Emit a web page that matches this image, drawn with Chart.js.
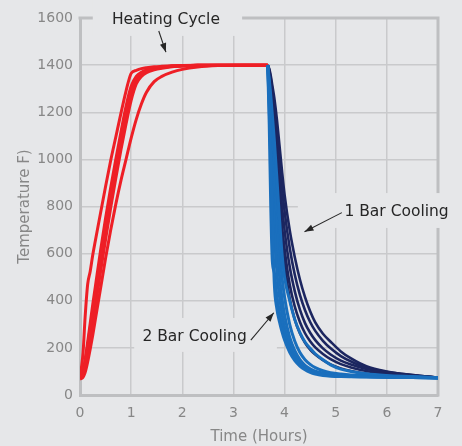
<!DOCTYPE html>
<html><head><meta charset="utf-8">
<script src="https://cdn.jsdelivr.net/npm/chart.js@4/dist/chart.umd.min.js"></script>
<style>html,body{margin:0;padding:0;background:#e6e7e9;}#wrap{width:462px;height:446px;}</style>
</head><body><div id="wrap"><canvas id="c" width="462" height="446"></canvas></div>
<script>
// ---- data (hours, °F) ----
const xTickValues = [0, 1, 2, 3, 4, 5, 6, 7];
const yTickValues = [0, 200, 400, 600, 800, 1000, 1200, 1400, 1600];

const heatTime = [0, 0.03, 0.06, 0.1, 0.15, 0.2, 0.25, 0.3, 0.4, 0.5, 0.6, 0.7, 0.8, 0.9, 1.0, 1.1, 1.2, 1.3, 1.45, 1.6, 1.8, 2.0, 2.3, 2.7, 3.2, 3.67];
const heat1 = [75, 120, 180, 330, 470, 525, 595, 655, 770, 885, 995, 1095, 1195, 1290, 1365, 1378, 1385, 1389, 1393, 1395, 1397, 1398, 1399, 1400, 1400, 1400];
const heat2 = [72, 78, 95, 140, 210, 285, 360, 435, 580, 720, 850, 970, 1085, 1195, 1290, 1345, 1365, 1376, 1385, 1390, 1395, 1397, 1399, 1400, 1400, 1400];
const heat3 = [70, 74, 85, 115, 170, 235, 305, 375, 520, 660, 795, 920, 1040, 1150, 1250, 1320, 1352, 1368, 1380, 1387, 1393, 1396, 1398, 1400, 1400, 1400];
const heat4 = [80, 85, 100, 150, 225, 305, 385, 460, 610, 750, 880, 1000, 1115, 1225, 1310, 1352, 1370, 1380, 1388, 1392, 1396, 1398, 1399, 1400, 1400, 1400];
const heat5 = [68, 70, 76, 95, 140, 195, 255, 320, 450, 580, 700, 810, 910, 1000, 1090, 1170, 1235, 1285, 1330, 1352, 1370, 1382, 1392, 1398, 1400, 1400];
const heat6 = [74, 80, 92, 130, 195, 265, 340, 415, 560, 700, 835, 960, 1075, 1185, 1280, 1340, 1362, 1374, 1384, 1390, 1395, 1397, 1399, 1400, 1400, 1400];

const coolTime = [3.67, 3.7, 3.73, 3.76, 3.8, 3.85, 3.9, 3.95, 4.0, 4.1, 4.2, 4.3, 4.4, 4.5, 4.6, 4.75, 4.9, 5.1, 5.3, 5.6, 6.0, 6.5, 7.0];
const twoBar1 = [1400, 1220, 1000, 760, 470, 365, 311, 268, 233, 181, 146, 123, 107, 96, 89, 83, 80, 78, 77, 76, 75, 74, 72];
const twoBar2 = [1400, 1150, 800, 570, 520, 420, 350, 295, 255, 195, 155, 128, 111, 100, 93, 87, 83, 80, 78, 77, 75, 74, 72];
const twoBar3 = [1400, 1260, 1080, 900, 700, 520, 420, 345, 290, 215, 168, 138, 118, 105, 97, 90, 86, 82, 80, 78, 76, 74, 72];
const twoBar4 = [1400, 1300, 1170, 1030, 850, 650, 510, 410, 340, 245, 188, 150, 126, 111, 101, 93, 88, 84, 81, 79, 77, 75, 73];
const twoBar5 = [1400, 1340, 1270, 1190, 1080, 920, 750, 600, 500, 400, 320, 265, 225, 198, 175, 150, 128, 110, 100, 90, 83, 78, 73];
const twoBar6 = [1400, 1320, 1220, 1110, 960, 780, 620, 500, 415, 300, 228, 180, 150, 130, 116, 103, 95, 89, 85, 82, 78, 76, 73];
const oneBar1 = [1400, 1360, 1300, 1230, 1130, 980, 820, 650, 560, 410, 320, 262, 222, 193, 172, 148, 130, 113, 102, 91, 83, 78, 73];
const oneBar2 = [1400, 1368, 1315, 1250, 1160, 1020, 870, 720, 620, 470, 375, 310, 262, 228, 202, 174, 152, 131, 117, 102, 90, 81, 74];
const oneBar3 = [1400, 1373, 1330, 1270, 1190, 1070, 930, 800, 700, 545, 440, 362, 305, 264, 233, 198, 172, 146, 129, 110, 95, 83, 74];
const oneBar4 = [1400, 1380, 1343, 1292, 1225, 1120, 1000, 880, 780, 625, 510, 425, 360, 310, 272, 230, 198, 165, 142, 116, 98, 85, 74];
const oneBar5 = [1400, 1385, 1355, 1315, 1260, 1170, 1060, 950, 850, 700, 585, 490, 415, 355, 308, 260, 226, 185, 155, 122, 100, 85, 74];

const heatSeries = [heat1, heat2, heat3, heat4, heat5, heat6];
const twoBarSeries = [twoBar1, twoBar2, twoBar3, twoBar4, twoBar5, twoBar6];
const oneBarSeries = [oneBar1, oneBar2, oneBar3, oneBar4, oneBar5];

// ---- styles ----
const BG = '#e6e7e9', GRID = '#c9cacc', FRAME = '#bebfc1', TICK = '#878787', INK = '#262626';
const RED = '#ee1f26', NAVY = '#1c2660', BLUE = '#1a6fbd';
const FONT = 'DejaVu Sans, Verdana, sans-serif';

function mk(times, vals, color, w) {
  return { data: times.map((t, i) => ({ x: t, y: vals[i] })), borderColor: color, borderWidth: w,
           pointRadius: 0, fill: false, cubicInterpolationMode: 'monotone' };
}
const datasets = [];
twoBarSeries.forEach(v => datasets.push(mk(coolTime, v, BLUE, 3)));
oneBarSeries.forEach(v => datasets.push(mk(coolTime, v, NAVY, 2.6)));
heatSeries.forEach(v => datasets.push(mk(heatTime, v, RED, 3)));

// annotation layout in data units
const notes = [
  { text: 'Heating Cycle', tx: 1.68, ty: 1592, align: 'center', from: [1.54, 1545], to: [1.68, 1455],
    box: [0.25, 3.17, 1690, 1524] },
  { text: '1 Bar Cooling', tx: 5.17, ty: 778, align: 'left', from: [5.12, 774], to: [4.39, 693],
    box: [4.26, 7.5, 857, 709] },
  { text: '2 Bar Cooling', tx: 3.26, ty: 247, align: 'right', from: [3.34, 233], to: [3.79, 349],
    box: [1.06, 3.85, 327, 183] }
];

const decor = {
  id: 'decor',
  beforeDraw(chart) {
    const c = chart.ctx; c.save(); c.fillStyle = BG; c.fillRect(0, 0, chart.width, chart.height); c.restore();
  },
  beforeDatasetsDraw(chart) {
    const c = chart.ctx, a = chart.chartArea, xs = chart.scales.x, ys = chart.scales.y;
    c.save();
    c.strokeStyle = FRAME; c.lineWidth = 3;
    c.beginPath(); c.moveTo(a.left - 1.5, a.top); c.lineTo(a.right + 1.5, a.top);
    c.moveTo(a.right, a.top); c.lineTo(a.right, a.bottom + 1.5); c.stroke();
    c.fillStyle = BG;
    notes.forEach(n => {
      const x1 = xs.getPixelForValue(n.box[0]), x2 = xs.getPixelForValue(n.box[1]);
      const y1 = ys.getPixelForValue(n.box[2]), y2 = ys.getPixelForValue(n.box[3]);
      c.fillRect(x1, y1, x2 - x1, y2 - y1);
    });
    c.restore();
  },
  afterDraw(chart) {
    const c = chart.ctx, xs = chart.scales.x, ys = chart.scales.y;
    c.save();
    c.font = '15.5px ' + FONT; c.fillStyle = INK; c.textBaseline = 'middle';
    notes.forEach(n => {
      c.textAlign = n.align;
      c.fillText(n.text, xs.getPixelForValue(n.tx), ys.getPixelForValue(n.ty));
      const fx = xs.getPixelForValue(n.from[0]), fy = ys.getPixelForValue(n.from[1]);
      const tx = xs.getPixelForValue(n.to[0]), ty = ys.getPixelForValue(n.to[1]);
      c.strokeStyle = INK; c.lineWidth = 1.1;
      c.beginPath(); c.moveTo(fx, fy); c.lineTo(tx, ty); c.stroke();
      const ang = Math.atan2(ty - fy, tx - fx), L = 9, W = 3.2;
      c.beginPath(); c.moveTo(tx, ty);
      c.lineTo(tx - L * Math.cos(ang) + W * Math.sin(ang), ty - L * Math.sin(ang) - W * Math.cos(ang));
      c.lineTo(tx - L * Math.cos(ang) - W * Math.sin(ang), ty - L * Math.sin(ang) + W * Math.cos(ang));
      c.closePath(); c.fillStyle = INK; c.fill();
    });
    c.restore();
  }
};

new Chart(document.getElementById('c'), {
  type: 'line',
  data: { datasets },
  options: {
    responsive: false, animation: false, events: [],
    layout: { padding: { top: 18, right: 24, left: 0, bottom: 0 } },
    plugins: { legend: { display: false }, tooltip: { enabled: false } },
    scales: {
      x: {
        type: 'linear', min: 0, max: 7,
        afterBuildTicks: s => { s.ticks = xTickValues.map(v => ({ value: v })); },
        afterFit: s => { s.height = 51; },
        grid: { color: GRID, lineWidth: 1.5, drawTicks: false },
        border: { color: FRAME, width: 3 },
        ticks: { color: TICK, font: { family: FONT, size: 14 }, padding: 10, maxRotation: 0, callback: v => String(v) },
        title: { display: true, text: 'Time (Hours)', color: TICK, font: { family: FONT, size: 15 }, padding: { top: 0, bottom: 0 } }
      },
      y: {
        type: 'linear', min: 0, max: 1600,
        afterBuildTicks: s => { s.ticks = yTickValues.map(v => ({ value: v })); },
        afterFit: s => { s.width = 80; },
        grid: { color: GRID, lineWidth: 1.5, drawTicks: false },
        border: { color: FRAME, width: 3 },
        ticks: { color: TICK, font: { family: FONT, size: 14 }, padding: 7, callback: v => String(v) },
        title: { display: true, text: 'Temperature F)', color: TICK, font: { family: FONT, size: 15 }, padding: { top: 16, bottom: 0 } }
      }
    }
  },
  plugins: [decor]
});
</script></body></html>
